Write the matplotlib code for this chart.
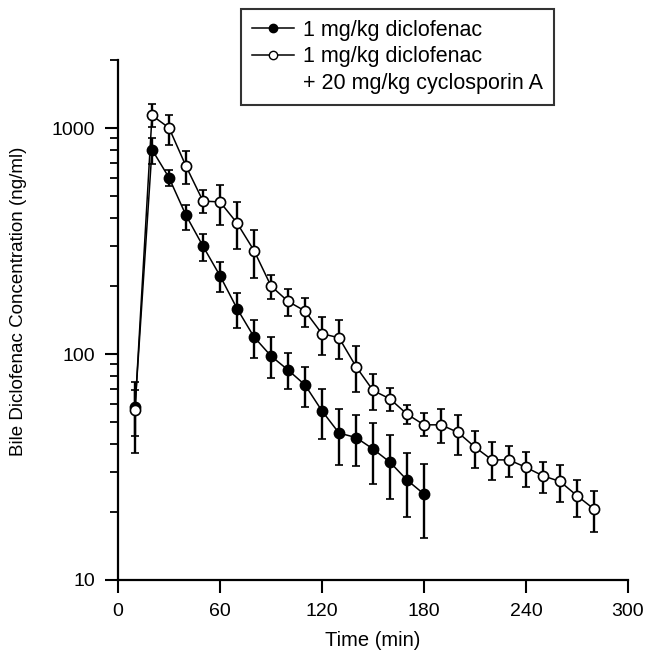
import matplotlib
matplotlib.use("Agg")
import matplotlib.pyplot as plt
from matplotlib.lines import Line2D
from matplotlib.ticker import LogLocator, FixedLocator, FixedFormatter, NullFormatter

plt.rcParams['font.family'] = ['Liberation Sans', 'DejaVu Sans']

# Closed circles: 1 mg/kg diclofenac
t_dic = [10, 20, 30, 40, 50, 60, 70, 80, 90, 100, 110, 120, 130, 140, 150, 160, 170, 180]
c_dic = [58, 803, 603, 411, 300, 222, 159, 119, 98, 85, 73, 56, 44.7, 42.7, 38, 33.2, 27.7, 24]
hi_dic = [69, 908, 649, 458, 338, 255, 187, 141, 119, 101, 88, 70, 57, 53.8, 49.4, 43.8, 36.6, 32.6]
lo_dic = [43.5, 690, 553, 355, 257, 189, 130, 96, 78, 70, 58, 42, 32.4, 31.8, 26.6, 22.8, 19, 15.3]

# Open circles: 1 mg/kg diclofenac + 20 mg/kg cyclosporin A
t_cya = [10, 20, 30, 40, 50, 60, 70, 80, 90, 100, 110, 120, 130, 140, 150, 160, 170, 180,
         190, 200, 210, 220, 230, 240, 250, 260, 270, 280]
c_cya = [56.6, 1137, 1002, 678, 475, 471, 380, 287, 200, 171, 155, 123, 118, 88, 69, 63.3,
         54.2, 48.6, 48.6, 45, 38.7, 34, 34, 31.5, 28.9, 27.3, 23.6, 20.6]
hi_cya = [75.3, 1274, 1140, 791, 530, 562, 470, 353, 224, 194, 177, 146, 141, 108, 81.8, 70.7,
          59.6, 54.8, 57.3, 53.5, 45.7, 40.6, 39.3, 37, 33.4, 32.4, 27.7, 24.8]
lo_cya = [36.5, 1010, 845, 566, 419, 374, 292, 217, 176, 147, 132, 99, 95, 67.6, 56.6, 56,
          49, 43.2, 40.4, 35.8, 31.3, 27.6, 28.7, 25.9, 24.2, 22.1, 19, 16.3]

x_ticks = [0, 60, 120, 180, 240, 300]
y_ticks = [10, 100, 1000]
y_tick_labels = ['10', '100', '1000']

fig = plt.figure(figsize=(6.46, 6.5), dpi=100)
ax = fig.add_axes([118/646, 70/650, 510/646, 520/650])

def errs(c, lo, hi):
    return [[ci - l for ci, l in zip(c, lo)], [h - ci for ci, h in zip(c, hi)]]

ax.errorbar(t_dic, c_dic, yerr=errs(c_dic, lo_dic, hi_dic), fmt='-o', color='black',
            mfc='black', mec='black', ms=7.3, mew=1.2, lw=1.1, elinewidth=1.7,
            capsize=2.8, capthick=1.7, zorder=3)
ax.errorbar(t_cya, c_cya, yerr=errs(c_cya, lo_cya, hi_cya), fmt='-o', color='black',
            mfc='white', mec='black', ms=7.3, mew=1.2, lw=1.1, elinewidth=1.7,
            capsize=2.8, capthick=1.7, zorder=4)

ax.set_yscale('log')
ax.set_ylim(10, 2000)
ax.set_xlim(0, 300)
ax.set_xticks(x_ticks)
ax.set_xticklabels([str(v) for v in x_ticks])
ax.yaxis.set_major_locator(FixedLocator(y_ticks))
ax.yaxis.set_major_formatter(FixedFormatter(y_tick_labels))
ax.yaxis.set_minor_locator(LogLocator(base=10, subs=range(2, 10)))
ax.yaxis.set_minor_formatter(NullFormatter())

for s in ['top', 'right']:
    ax.spines[s].set_visible(False)
for s in ['left', 'bottom']:
    ax.spines[s].set_linewidth(1.6)

ax.tick_params(axis='both', which='major', direction='out', length=9.3, width=1.5,
               labelsize=14, pad=7)
ax.tick_params(axis='y', which='minor', direction='out', length=5.8, width=1.3)
ax.tick_params(axis='x', which='minor', bottom=False)

ax.set_xlabel('Time (min)', fontsize=14.5, labelpad=8)
ax.set_ylabel('Bile Diclofenac Concentration (ng/ml)', fontsize=13.5)
ax.yaxis.set_label_coords(-0.178, 0.535)

handles = [
    Line2D([], [], color='black', marker='o', mfc='black', mec='black', ms=6, lw=1.1),
    Line2D([], [], color='black', marker='o', mfc='white', mec='black', ms=6, lw=1.1),
    Line2D([], [], color='none'),
]
labels = ['1 mg/kg diclofenac', '1 mg/kg diclofenac', '+ 20 mg/kg cyclosporin A']
leg = fig.legend(handles, labels, loc='upper left', bbox_to_anchor=(241/646, 1 - 9/650),
                 fontsize=15.5, frameon=True, fancybox=False, edgecolor='black',
                 handlelength=1.95, handletextpad=0.45, labelspacing=0.26,
                 borderpad=0.5, borderaxespad=0)
leg.get_frame().set_linewidth(1.5)

fig.savefig('out.png', dpi=100)
